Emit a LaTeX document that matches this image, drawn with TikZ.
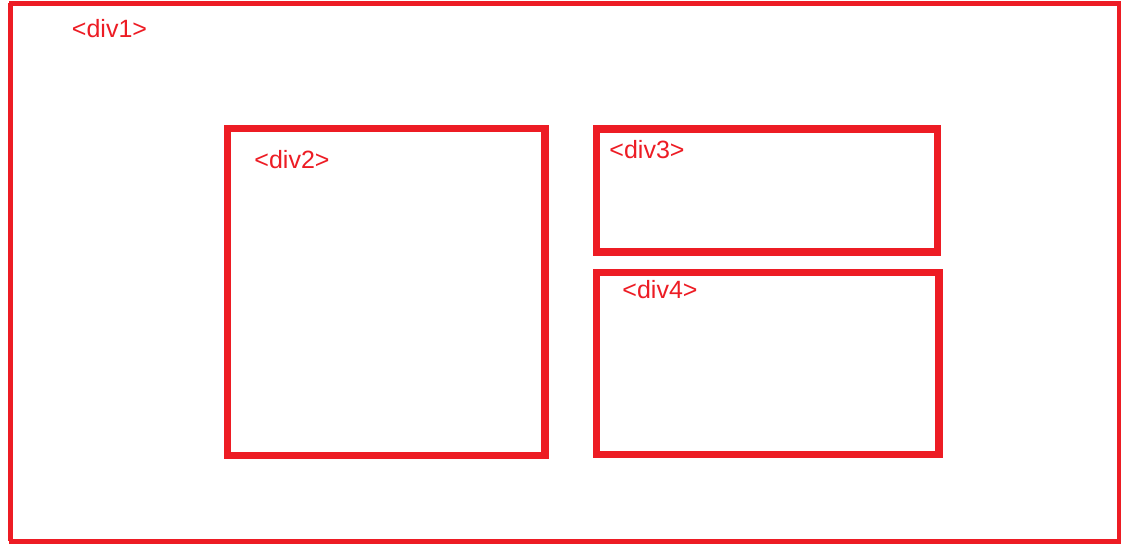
\documentclass[tikz,border=0pt]{standalone}
\usepackage{fontspec}
\setmainfont{Liberation Sans}
\definecolor{divred}{HTML}{ED1C24}
\begin{document}
\begin{tikzpicture}[x=1pt,y=-1pt,
  divbox/.style={draw=divred, line width=7.2pt, fill=none, inner sep=0pt, outer sep=0pt, rectangle},
  outerbox/.style={draw=divred, line width=4.5pt, fill=none, inner sep=0pt, outer sep=0pt, rectangle},
  divlabel/.style={text=divred, font=\fontsize{25}{27}\selectfont, inner sep=0pt, anchor=base}]
\useasboundingbox (0,0) rectangle (1128,544);
\fill[white] (0,0) rectangle (1128,544);
% outer div1
\node[outerbox, minimum width=1108pt, minimum height=538pt] (div1) at (565,272.5) {};
\draw[divred, line width=3pt] (9.5,3) -- (9.5,541);
% div2
\node[divbox, minimum width=317.5pt, minimum height=327pt] (div2) at (386.3,292) {};
% div3
\node[divbox, minimum width=341.5pt, minimum height=123pt] (div3) at (767,190.5) {};
% div4
\node[divbox, minimum width=342.5pt, minimum height=182.5pt] (div4) at (767.8,363.5) {};
% labels
\node[divlabel] (t1) at (109.5,37) {<div1>};
\node[divlabel] (t2) at (292,168.5) {<div2>};
\node[divlabel] (t3) at (647,158.5) {<div3>};
\node[divlabel] (t4) at (660,298.5) {<div4>};
\end{tikzpicture}
\end{document}
